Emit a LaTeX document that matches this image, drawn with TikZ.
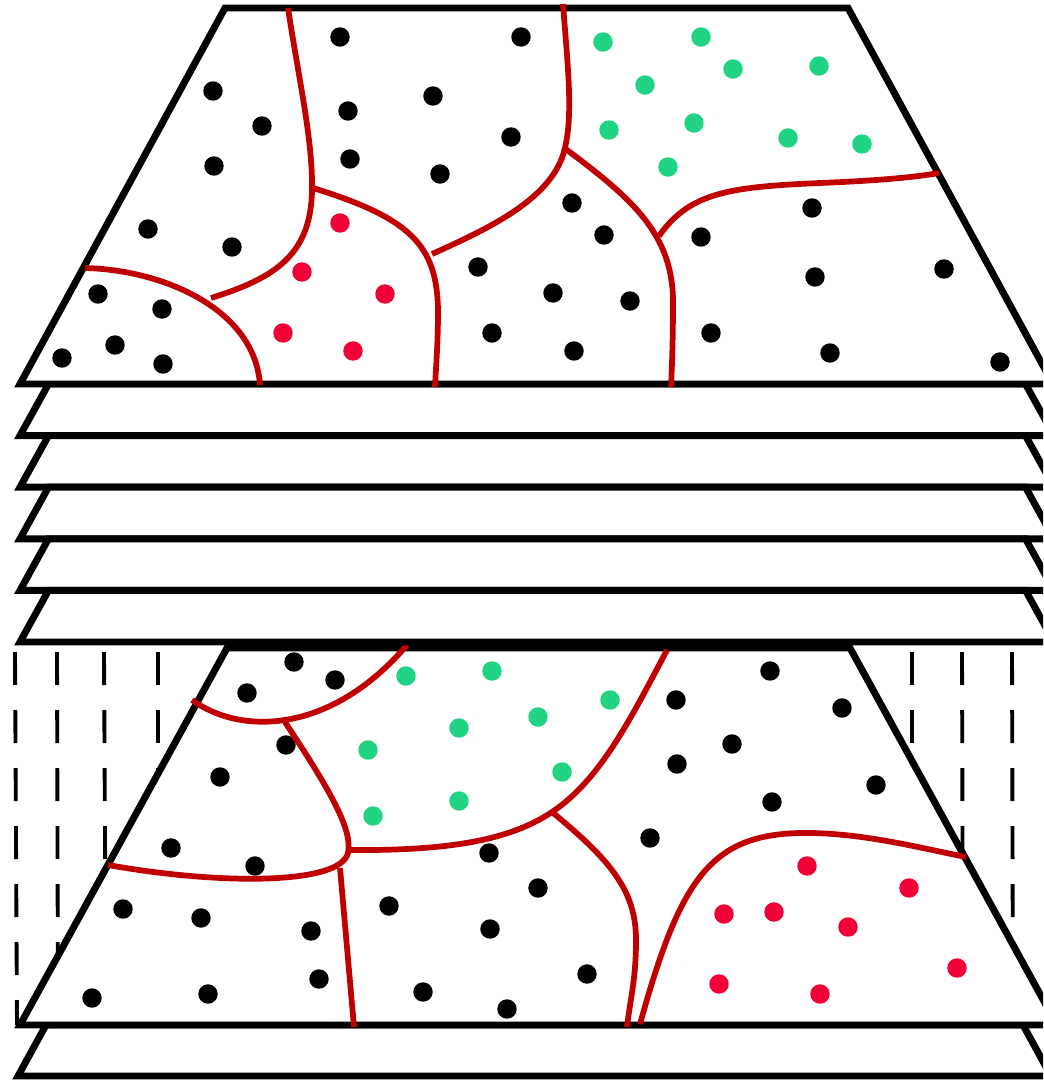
\documentclass[tikz,border=0pt]{standalone}
\definecolor{curvered}{RGB}{192,0,0}
\definecolor{dotred}{RGB}{240,0,52}
\definecolor{dotgreen}{RGB}{32,212,132}
\tikzset{
  frame/.style={draw=black, fill=white, line width=5.2pt, line join=miter},
  cell/.style={draw=curvered, line width=4.3pt},
  hidden/.style={draw=black, line width=2.9pt, dash pattern=on 24.75pt off 18.75pt},
  bdot/.style={fill=black},
  rdot/.style={fill=dotred},
  gdot/.style={fill=dotgreen}
}
\begin{document}
\begin{tikzpicture}[x=0.75pt,y=-0.75pt]
\useasboundingbox (0,0) rectangle (1043,1080);
\clip (0,0) rectangle (1043,1080);

% hidden vertical dashed lines
\foreach \a/\b in {15/17, 57/58, 104/106, 158/158, 912/912, 962/963, 1012/1013}
  \draw[hidden] (\a,652) -- (\b,1025);

% bottom slab
\draw[frame] (46,1025) -- (1023,1025) -- (1051,1076) -- (18,1076) -- cycle;
% bottom trapezoid
\draw[frame] (227,648) -- (850,648) -- (1057,1025) -- (20,1025) -- cycle;

% bottom dots
\foreach \x/\y in {294/662, 335/680, 247/693, 286/745, 220/777, 171/848, 255/866,
  123/909, 201/918, 311/931, 389/906, 489/853, 538/888, 490/929, 319/979, 92/998,
  208/994, 423/992, 507/1009, 770/671, 676/700, 842/708, 732/744, 677/764, 876/785,
  772/802, 650/838, 587/974}
  \fill[bdot] (\x,\y) circle[radius=7.3pt];
\foreach \x/\y in {406/676, 492/671, 538/717, 459/728, 368/750, 459/801, 373/816,
  610/700, 562/772}
  \fill[gdot] (\x,\y) circle[radius=7.3pt];
\foreach \x/\y in {807/866, 909/888, 724/914, 774/912, 848/927, 957/968, 719/984, 820/994}
  \fill[rdot] (\x,\y) circle[radius=7.3pt];

% bottom cell boundaries
\draw[cell] (192,700) .. controls (240,735) and (330,735) .. (407,645);
\draw[cell] (285,722) .. controls (330,790) and (353,830) .. (348,853)
  .. controls (340,885) and (220,885) .. (108,865);
\draw[cell] (348,850) .. controls (450,851) and (510,840) .. (552,812)
  .. controls (600,780) and (630,720) .. (667,650);
\draw[cell] (552,812) .. controls (610,860) and (636,890) .. (636,940)
  .. controls (636,980) and (630,1000) .. (627,1027);
\draw[cell] (340,868) -- (354,1027);
\draw[cell] (640,1024) .. controls (680,880) and (710,835) .. (800,833)
  .. controls (860,832) and (920,848) .. (966,857);

% stacked slabs
\foreach \k in {0,...,4}{
  \pgfmathsetmacro{\yt}{384+\k*51.6}
  \pgfmathsetmacro{\yb}{\yt+51.6}
  \draw[frame] (48.5,\yt) -- (1025.5,\yt) -- (1054,\yb) -- (20,\yb) -- cycle;
}

% top trapezoid
\draw[frame] (225,8) -- (848,8) -- (1053,384) -- (20,384) -- cycle;

% top dots
\foreach \x/\y in {340/37, 521/37, 213/91, 262/126, 348/111, 433/96, 214/166, 350/159,
  511/137, 440/174, 148/229, 232/247, 478/267, 98/294, 162/309, 115/345, 62/358,
  163/364, 492/333, 572/203, 604/235, 812/208, 701/237, 553/293, 630/301, 815/277,
  944/269, 711/333, 574/351, 830/353, 1000/362}
  \fill[bdot] (\x,\y) circle[radius=7.3pt];
\foreach \x/\y in {603/42, 701/37, 733/69, 819/66, 645/85, 609/130, 694/123, 788/138,
  862/144, 668/167}
  \fill[gdot] (\x,\y) circle[radius=7.3pt];
\foreach \x/\y in {340/223, 302/272, 385/294, 283/333, 353/351}
  \fill[rdot] (\x,\y) circle[radius=7.3pt];

% top cell boundaries
\draw[cell] (288,8) .. controls (298,75) and (313,140) .. (312,190)
  .. controls (311,255) and (275,278) .. (211,298);
\draw[cell] (313,188) .. controls (410,218) and (437,245) .. (438,310)
  .. controls (438,345) and (436,365) .. (435,387);
\draw[cell] (85,268) .. controls (165,270) and (255,310) .. (260,385);
\draw[cell] (563,4) .. controls (568,70) and (574,120) .. (563,155)
  .. controls (548,200) and (490,228) .. (432,254);
\draw[cell] (563,147) .. controls (630,197) and (672,232) .. (673,300)
  .. controls (673,340) and (672,365) .. (671,387);
\draw[cell] (659,236) .. controls (690,192) and (730,187) .. (820,183)
  .. controls (870,181) and (910,178) .. (939,173);
\end{tikzpicture}
\end{document}
